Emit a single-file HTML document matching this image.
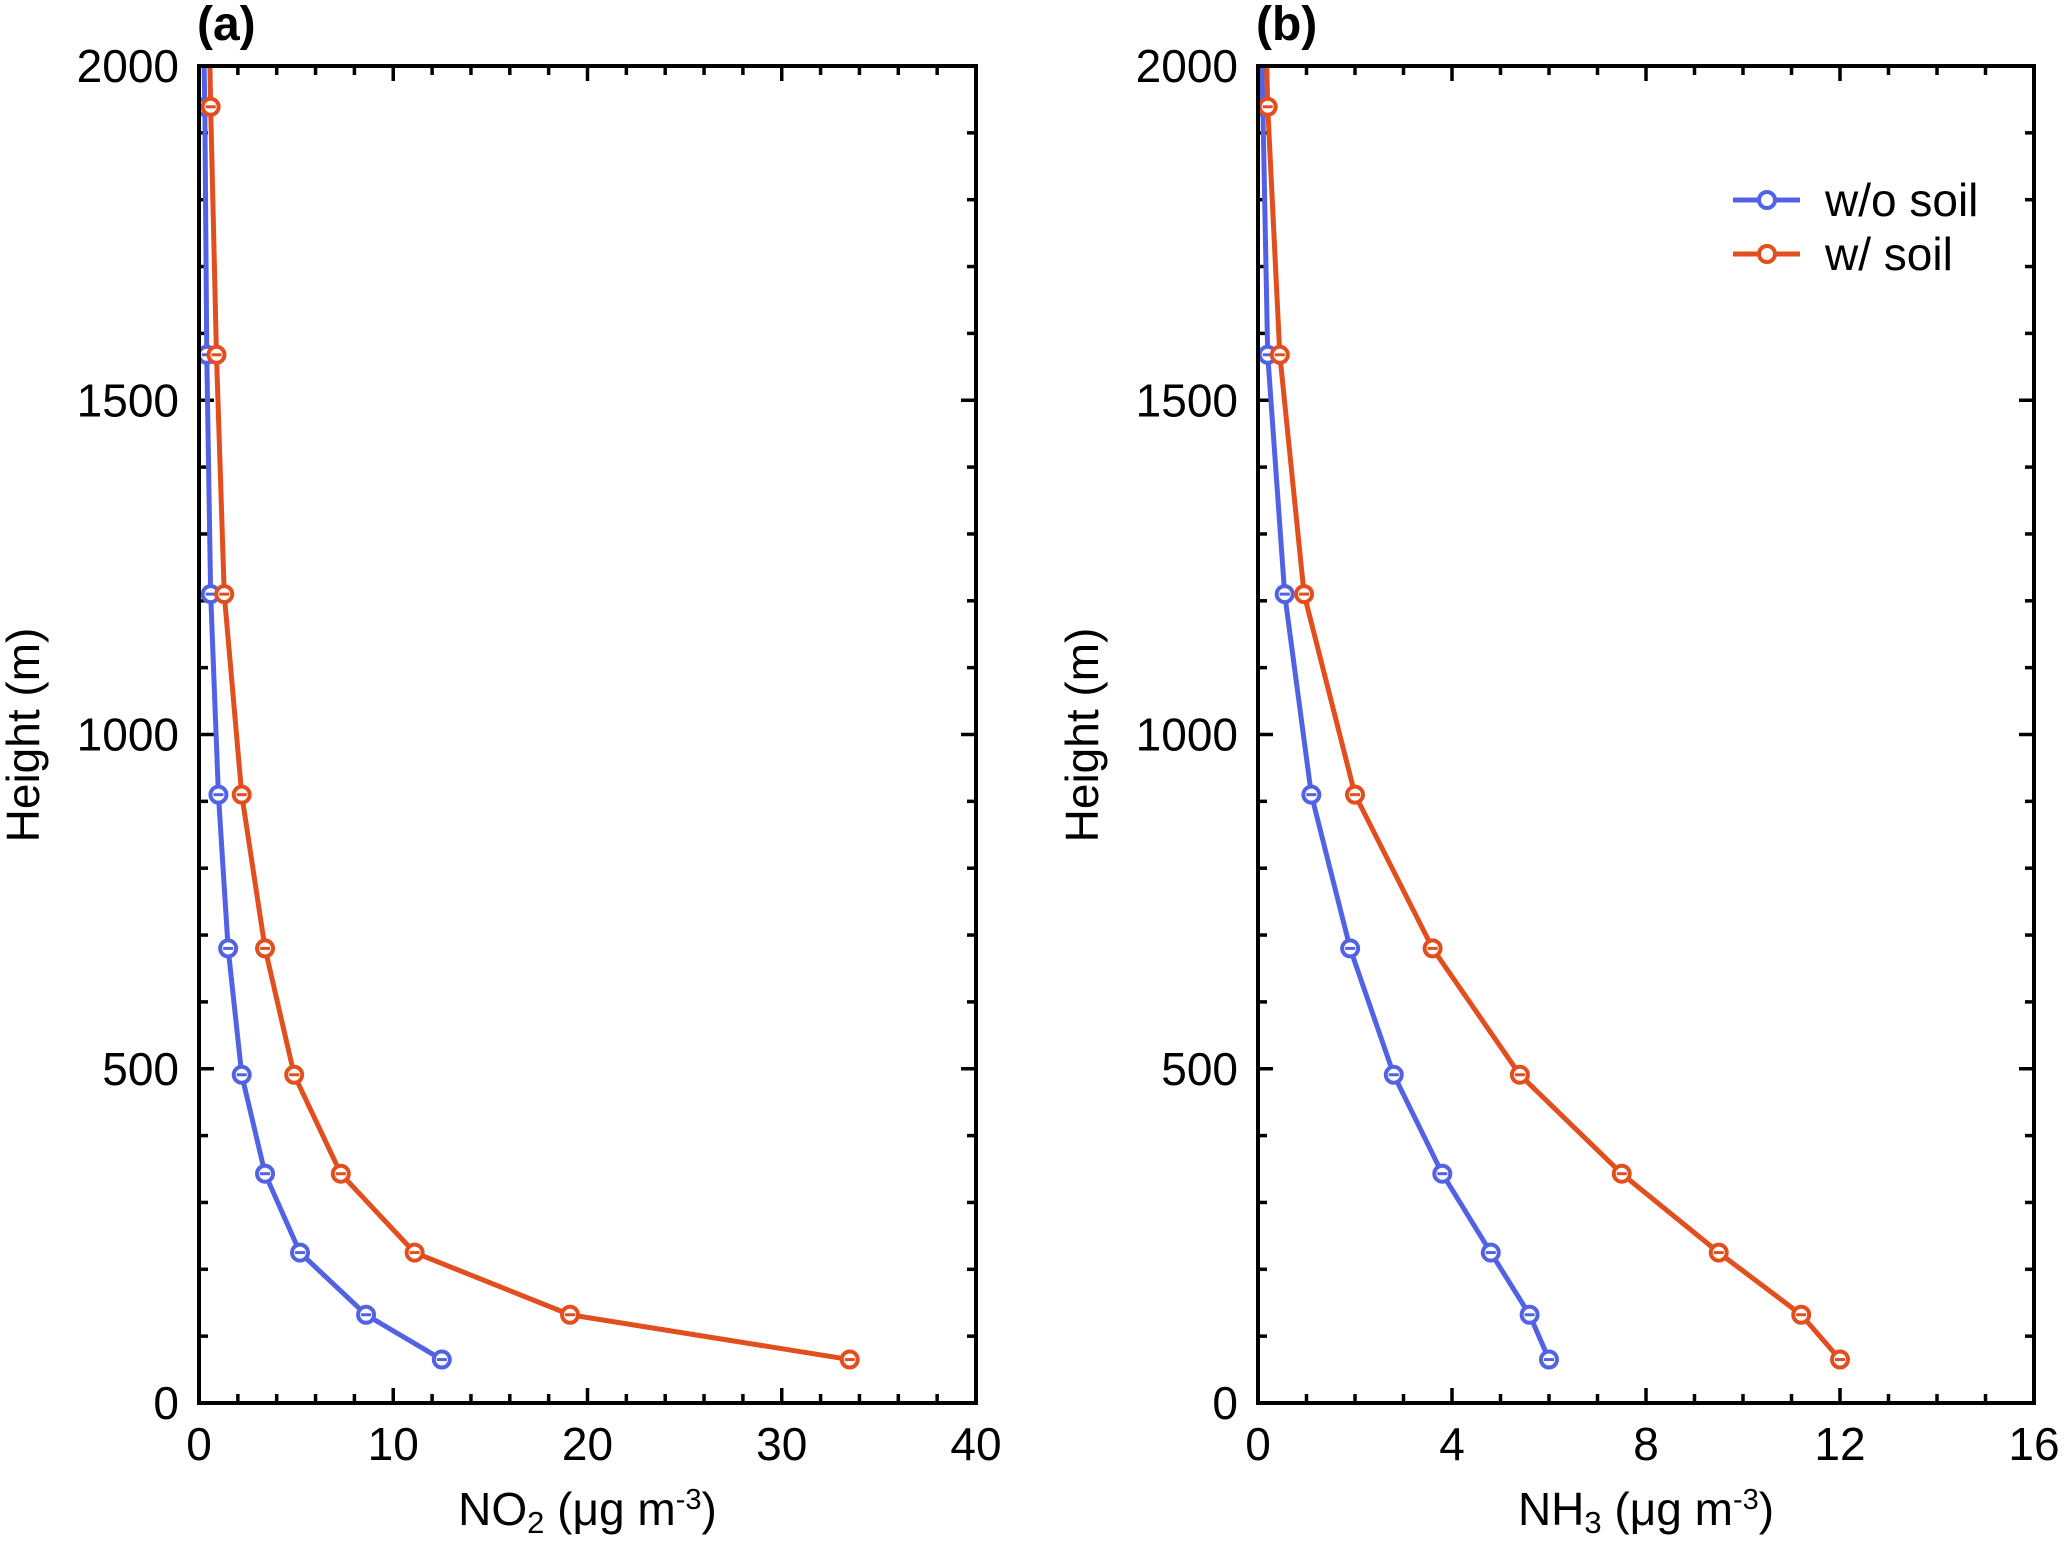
<!DOCTYPE html>
<html><head><meta charset="utf-8"><style>
html,body{margin:0;padding:0;background:#fff;}
svg{display:block;font-family:"Liberation Sans",Arial,sans-serif;}
</style></head><body>
<svg id="chart" width="2067" height="1542" viewBox="0 0 2067 1542"></svg>
<script>
const heights = [1939, 1568, 1210, 910, 680, 491, 343, 225, 132, 65];
const no2NoSoil = [0.3, 0.4, 0.6, 1.0, 1.5, 2.2, 3.4, 5.2, 8.6, 12.5];
const no2Soil = [0.6, 0.9, 1.3, 2.2, 3.4, 4.9, 7.3, 11.1, 19.1, 33.5];
const nh3NoSoil = [0.1, 0.2, 0.55, 1.1, 1.9, 2.8, 3.8, 4.8, 5.6, 6.0];
const nh3Soil = [0.2, 0.45, 0.95, 2.0, 3.6, 5.4, 7.5, 9.5, 11.2, 12.0];
const yTicks = [0, 500, 1000, 1500, 2000];
const xTicksA = [0, 10, 20, 30, 40];
const xTicksB = [0, 4, 8, 12, 16];

const NS = "http://www.w3.org/2000/svg";
const svgEl = document.getElementById('chart');
function mk(tag, attrs, parent) {
  const e = document.createElementNS(NS, tag);
  for (const k in attrs) e.setAttribute(k, attrs[k]);
  (parent || svgEl).appendChild(e);
  return e;
}
const BLUE = "#5163e4", ORANGE = "#e24e1e";
const plotTop = 66, plotBot = 1403;

function panel(cfg) {
  const g = mk('g', {});
  
  
  const L = cfg.left, R = cfg.right;
  const xs = v => L + (v - cfg.xmin) / (cfg.xmax - cfg.xmin) * (R - L);
  const ys = v => plotBot - v / 2000 * (plotBot - plotTop);
  const clipId = 'clip-' + cfg.name;
  const cp = mk('clipPath', {id: clipId}, g);
  mk('rect', {x: L, y: plotTop, width: R - L, height: plotBot - plotTop}, cp);
  for (let v = 0; v <= 2000; v += 100) {
    const major = v % 500 === 0;
    const len = major ? 15 : 9;
    const y = ys(v);
    const t1 = mk('line', {x1: L, x2: L + len, y1: y, y2: y, stroke: '#000', 'stroke-width': 3.5}, g);
    
    
    const t2 = mk('line', {x1: R, x2: R - len, y1: y, y2: y, stroke: '#000', 'stroke-width': 3.5}, g);
    
    
  }
  for (let v = cfg.xmin; v <= cfg.xmax + 1e-9; v += cfg.minorStep) {
    const major = Math.abs(v / cfg.majorStep - Math.round(v / cfg.majorStep)) < 1e-6;
    const len = major ? 15 : 9;
    const x = xs(v);
    const t1 = mk('line', {x1: x, x2: x, y1: plotBot, y2: plotBot - len, stroke: '#000', 'stroke-width': 3.5}, g);
    
    
    const t2 = mk('line', {x1: x, x2: x, y1: plotTop, y2: plotTop + len, stroke: '#000', 'stroke-width': 3.5}, g);
    
    
  }
  yTicks.forEach(v => {
    const t = mk('text', {x: L - 20, y: ys(v) + 16, 'font-size': 46, 'text-anchor': 'end'}, g);
    t.textContent = v;
    
    
  });
  cfg.xTicks.forEach(v => {
    const t = mk('text', {x: xs(v), y: 1460, 'font-size': 46, 'text-anchor': 'middle'}, g);
    t.textContent = v;
    
    
  });
  cfg.series.forEach(s => {
    const sg = mk('g', {'clip-path': 'url(#' + clipId + ')'}, g);
    
    
    const pts = s.vals.map((v, i) => xs(v) + ',' + ys(heights[i]));
    const ext = xs(s.topVal) + ',' + ys(2100);
    const pl = mk('polyline', {points: [ext].concat(pts).join(' '), fill: 'none', stroke: s.color, 'stroke-width': 5, 'stroke-linejoin': 'round'}, sg);
    
    
    s.vals.forEach((v, i) => {
      const c = mk('circle', {cx: xs(v), cy: ys(heights[i]), r: 8, fill: '#fff', stroke: s.color, 'stroke-width': 4}, sg);
      
      
      const m = mk('line', {x1: xs(v) - 5, x2: xs(v) + 5, y1: ys(heights[i]), y2: ys(heights[i]), stroke: s.color, 'stroke-width': 3}, sg);
      
      
    });
  });
  const fr = mk('rect', {x: L, y: plotTop, width: R - L, height: plotBot - plotTop, fill: 'none', stroke: '#000', 'stroke-width': 4}, g);
  
  
  const yt = mk('text', {x: 0, y: 0, 'font-size': 46, 'text-anchor': 'middle', transform: 'translate(' + (cfg.left - 160) + ',735) rotate(-90)'}, g);
  yt.textContent = 'Height (m)';
  
  
  const xt = mk('text', {x: (L + R) / 2, y: 1525, 'font-size': 46, 'text-anchor': 'middle'}, g);
  
  
  const parts = [[cfg.xMain, {}], [cfg.xSub, {'font-size': 31, dy: 8}], [' (μg m', {dy: -8}], ['-3', {'font-size': 29, dy: -16}], [')', {dy: 16}]];
  parts.forEach(([txt, a]) => {
    const ts = mk('tspan', a, xt);
    ts.textContent = txt;
  });
  const pt = mk('text', {x: L - 2, y: 40, 'font-size': 48, 'font-weight': 'bold'}, g);
  pt.textContent = cfg.label;
  
  
}

panel({name: 'panel-a-no2', left: 199, right: 976, xmin: 0, xmax: 40, majorStep: 10, minorStep: 2, xTicks: xTicksA,
  xMain: 'NO', xSub: '2', label: '(a)',
  series: [{name: 'no2-wo-soil', vals: no2NoSoil, color: BLUE, topVal: 0.2}, {name: 'no2-w-soil', vals: no2Soil, color: ORANGE, topVal: 0.5}]});
panel({name: 'panel-b-nh3', left: 1258, right: 2034, xmin: 0, xmax: 16, majorStep: 4, minorStep: 1, xTicks: xTicksB,
  xMain: 'NH', xSub: '3', label: '(b)',
  series: [{name: 'nh3-wo-soil', vals: nh3NoSoil, color: BLUE, topVal: 0.05}, {name: 'nh3-w-soil', vals: nh3Soil, color: ORANGE, topVal: 0.15}]});

const lg = mk('g', {});


[['w/o soil', BLUE, 200], ['w/ soil', ORANGE, 254]].forEach(([txt, col, y]) => {
  const l = mk('line', {x1: 1733, x2: 1800, y1: y, y2: y, stroke: col, 'stroke-width': 5}, lg);
  
  
  const c = mk('circle', {cx: 1767, cy: y, r: 8, fill: '#fff', stroke: col, 'stroke-width': 4}, lg);
  
  
  const t = mk('text', {x: 1825, y: y + 16, 'font-size': 46}, lg);
  t.textContent = txt;
  
  
});
</script>
</body></html>
